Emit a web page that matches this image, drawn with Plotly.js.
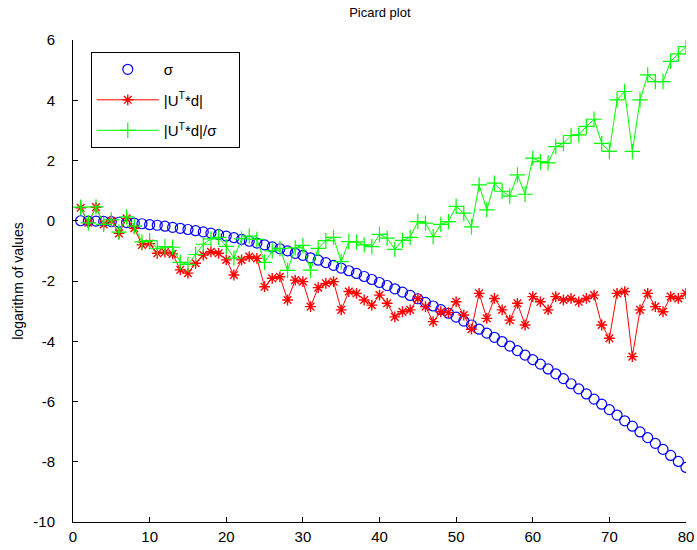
<!DOCTYPE html>
<html>
<head>
<meta charset="utf-8">
<script src="https://cdn.plot.ly/plotly-3.0.1.min.js"></script>
<style>
  html, body { margin: 0; padding: 0; background: #fff; }
  #plot { width: 697px; height: 550px; }
</style>
</head>
<body>
<div id="plot"></div>
<script>
// Picard plot: singular values, Fourier coefficients and their ratio (log10 scale)
const idx = Array.from({length: 80}, (_, i) => i + 1);

const logSigma = [
   0.00, -0.01, -0.01, -0.02, -0.03, -0.05, -0.06, -0.08, -0.10, -0.13,
  -0.15, -0.18, -0.22, -0.25, -0.29, -0.33, -0.37, -0.41, -0.46, -0.51,
  -0.56, -0.62, -0.68, -0.74, -0.80, -0.87, -0.93, -1.00, -1.08, -1.15,
  -1.23, -1.31, -1.39, -1.48, -1.57, -1.66, -1.75, -1.85, -1.95, -2.05,
  -2.15, -2.26, -2.37, -2.48, -2.59, -2.71, -2.83, -2.95, -3.07, -3.20,
  -3.33, -3.46, -3.60, -3.73, -3.87, -4.01, -4.16, -4.31, -4.46, -4.61,
  -4.76, -4.92, -5.08, -5.24, -5.41, -5.58, -5.75, -5.92, -6.09, -6.27,
  -6.45, -6.64, -6.82, -7.01, -7.20, -7.39, -7.59, -7.79, -7.99, -8.19
];

const logCoef = [
   0.43, -0.06,  0.45, -0.12,  0.00, -0.42,  0.08, -0.25, -0.80, -0.76,
  -1.08, -1.04, -1.10, -1.63, -1.74, -1.41, -1.14, -1.03, -1.08, -1.30,
  -1.80, -1.30, -1.19, -1.25, -2.19, -1.91, -1.86, -2.63, -1.97, -2.02,
  -2.85, -2.22, -2.08, -2.02, -2.96, -2.35, -2.41, -2.63, -2.80, -2.47,
  -2.74, -3.19, -3.02, -2.96, -2.58, -2.85, -3.35, -3.02, -3.05, -2.69,
  -3.13, -3.60, -2.41, -3.24, -2.58, -2.96, -3.30, -2.74, -3.46, -2.52,
  -2.69, -2.96, -2.52, -2.63, -2.58, -2.69, -2.58, -2.47, -3.46, -3.90,
  -2.41, -2.35, -4.51, -2.96, -2.41, -2.85, -3.02, -2.52, -2.58, -2.41
];

const logRatio = [
   0.45, -0.07,  0.46, -0.12,  0.03, -0.38,  0.13, -0.18, -0.70, -0.66,
  -0.93, -0.86, -0.88, -1.38, -1.45, -1.12, -0.78, -0.60, -0.55, -0.85,
  -1.24, -0.60, -0.51, -0.62, -1.38, -1.00, -0.92, -1.65, -0.90, -0.82,
  -1.64, -0.92, -0.66, -0.55, -1.36, -0.69, -0.70, -0.80, -0.86, -0.45,
  -0.58, -0.95, -0.65, -0.55, -0.03, -0.08, -0.53, -0.12, -0.03,  0.48,
   0.25, -0.20,  1.19,  0.36,  1.25,  0.98,  0.82,  1.52,  0.88,  2.08,
   1.96,  1.92,  2.46,  2.57,  2.83,  2.85,  3.13,  3.37,  2.57,  2.30,
   4.01,  4.29,  2.30,  4.01,  4.84,  4.62,  4.62,  5.29,  5.54,  5.78
];

const xTicks = [0, 10, 20, 30, 40, 50, 60, 70, 80];
const yTicks = [-10, -8, -6, -4, -2, 0, 2, 4, 6];

const FONT = 'Liberation Sans, Arial, sans-serif';

// trailing no-break spaces leave some room on the right of the legend box
const PAD = '\u00a0\u00a0\u00a0\u00a0';

const traces = [
  {
    x: idx, y: logSigma, name: 'σ', type: 'scatter', mode: 'markers',
    legendgroup: 'a',
    marker: {symbol: 'circle-open', size: 10, color: '#0000ff', line: {width: 1.2, color: '#0000ff'}}
  },
  {
    x: idx, y: logCoef, name: '|U<sup>T</sup>*d|', type: 'scatter', mode: 'lines+markers',
    legendgroup: 'b',
    line: {color: '#ff0000', width: 1},
    marker: {symbol: 'asterisk-open', size: 9, color: '#ff0000', line: {width: 1.4, color: '#ff0000'}}
  },
  {
    x: idx, y: logRatio, name: '|U<sup>T</sup>*d|/σ' + PAD, type: 'scatter', mode: 'lines+markers',
    legendgroup: 'c',
    line: {color: '#00ff00', width: 1},
    marker: {symbol: 'cross-thin-open', size: 11, color: '#00ff00', line: {width: 1.2, color: '#00ff00'}}
  }
];

const layout = {
  width: 697, height: 550,
  margin: {l: 73, r: 11, t: 40, b: 28, pad: 0},
  paper_bgcolor: '#ffffff', plot_bgcolor: '#ffffff',
  font: {family: FONT, size: 14, color: '#000'},
  title: {text: 'Picard plot', font: {family: FONT, size: 13, color: '#000'},
          x: 0.545, xanchor: 'center', y: 0.978, yanchor: 'middle', yref: 'container'},
  xaxis: {
    range: [0, 80], tickvals: xTicks, ticktext: xTicks.map(String),
    ticks: 'inside', ticklen: 5, tickcolor: '#000', tickwidth: 1,
    showline: true, linecolor: '#000', linewidth: 1, mirror: false,
    showgrid: false, zeroline: false, tickfont: {family: FONT, size: 15},
    ticklabelstandoff: 1
  },
  yaxis: {
    range: [-10, 6], tickvals: yTicks, ticktext: yTicks.map(String),
    ticks: 'inside', ticklen: 5, tickcolor: '#000', tickwidth: 1,
    showline: true, linecolor: '#000', linewidth: 1, mirror: false,
    showgrid: false, zeroline: false, tickfont: {family: FONT, size: 15},
    ticklabelstandoff: 14,
    title: {text: 'logarithm of values', font: {family: FONT, size: 14}, standoff: 6}
  },
  showlegend: true,
  legend: {
    x: 0.029, y: 0.975, xanchor: 'left', yanchor: 'top',
    bgcolor: '#ffffff', bordercolor: '#000', borderwidth: 1,
    font: {family: FONT, size: 15, color: '#000'},
    traceorder: 'grouped', tracegroupgap: 8, itemwidth: 62
  }
};

Plotly.newPlot('plot', traces, layout, {staticPlot: true, displayModeBar: false});
</script>
</body>
</html>
